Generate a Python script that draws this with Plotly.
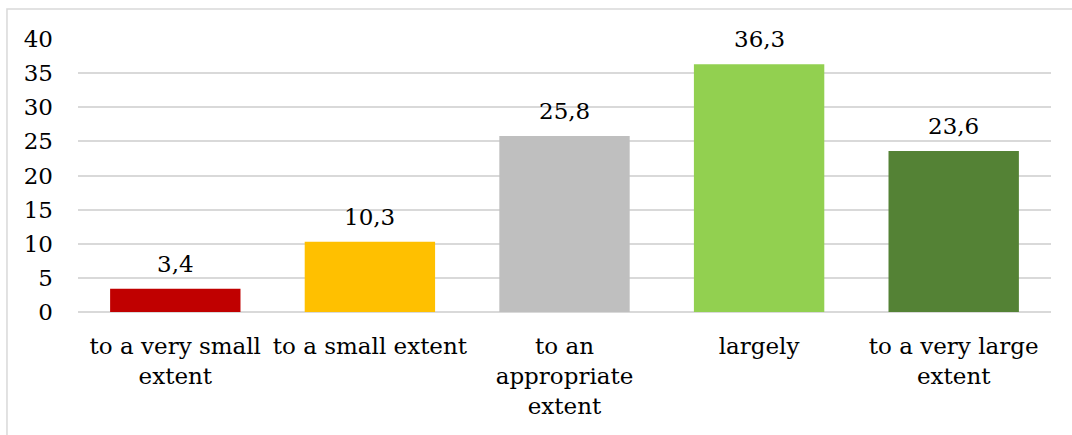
import plotly.graph_objects as go

categories = [
    "to a very small<br>extent",
    "to a small extent",
    "to an<br>appropriate<br>extent",
    "largely",
    "to a very large<br>extent",
]
values = [3.4, 10.3, 25.8, 36.3, 23.6]
colors = ["#C00000", "#FFC000", "#BFBFBF", "#92D050", "#548235"]
y_ticks = [0, 5, 10, 15, 20, 25, 30, 35, 40]

FONT = "DejaVu Serif"
SIZE = 23

fig = go.Figure(
    go.Bar(
        x=categories,
        y=values,
        marker=dict(color=colors, line=dict(width=0)),
        hoverinfo="skip",
    )
)

# value labels above each bar, decimal comma
for cat, val in zip(categories, values):
    fig.add_annotation(
        x=cat, y=val, text=f"{val:.1f}".replace(".", ","),
        showarrow=False, yanchor="bottom", yshift=10,
        font=dict(family=FONT, size=SIZE, color="#000000"),
    )

# outer chart frame
fig.add_shape(
    type="rect", xref="paper", yref="paper",
    x0=-0.073, x1=1.2, y0=-0.6, y1=1.11,
    line=dict(color="#D9D9D9", width=1.5), layer="below",
)

fig.update_layout(
    width=1072, height=435,
    margin=dict(l=78, r=21, t=39, b=123),
    paper_bgcolor="white", plot_bgcolor="white",
    bargap=0.33,
    showlegend=False,
    font=dict(family=FONT, size=SIZE, color="#000000"),
    xaxis=dict(
        showline=False, showgrid=False, ticks="",
        tickfont=dict(family=FONT, size=SIZE), ticklabelstandoff=18,
    ),
    yaxis=dict(
        range=[0, 40], tickvals=y_ticks, showline=False,
        gridcolor="#D9D9D9", gridwidth=1.5, zeroline=True,
        zerolinecolor="#D9D9D9", zerolinewidth=1.5,
        tickfont=dict(family=FONT, size=SIZE), ticklabelstandoff=24,
    ),
)

fig.write_html("out.html")
